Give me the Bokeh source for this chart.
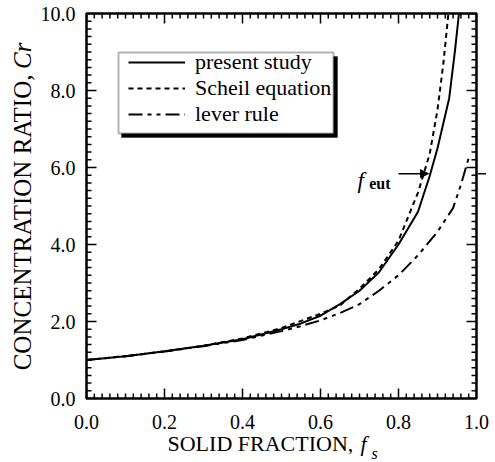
import math
from bokeh.plotting import figure
from bokeh.models import (FixedTicker, PrintfTickFormatter, Range1d, Title, ColumnDataSource,
                          Legend, LegendItem, Label, Arrow, NormalHead, BoxAnnotation)
from bokeh.embed import file_html
from bokeh.resources import INLINE

# ---- data ----
fs_present = [0.0, 0.1, 0.2, 0.3, 0.4, 0.5, 0.55, 0.6, 0.65, 0.7, 0.75, 0.8, 0.85, 0.88, 0.9, 0.93, 0.945, 0.955]
cr_present = [1.0, 1.10, 1.23, 1.37, 1.54, 1.80, 1.95, 2.15, 2.45, 2.80, 3.28, 4.00, 4.85, 5.78, 6.50, 7.80, 9.05, 10.0]

fs_scheil = [0.0, 0.1, 0.2, 0.3, 0.4, 0.5, 0.6, 0.65, 0.7, 0.75, 0.8, 0.85, 0.88, 0.9, 0.915, 0.928]
cr_scheil = [1.0, 1.10, 1.22, 1.37, 1.56, 1.83, 2.20, 2.42, 2.85, 3.36, 4.10, 5.35, 6.35, 7.50, 8.70, 10.0]

fs_lever = [0.0, 0.1, 0.2, 0.3, 0.4, 0.5, 0.55, 0.6, 0.65, 0.7, 0.75, 0.8, 0.85, 0.9, 0.94, 0.96, 0.98]
cr_lever = [1.0, 1.10, 1.22, 1.36, 1.52, 1.75, 1.88, 2.03, 2.22, 2.45, 2.80, 3.20, 3.72, 4.33, 4.95, 5.55, 6.25]

series_labels = ["present study", "Scheil equation", "lever rule"]

x_ticks = [0.0, 0.2, 0.4, 0.6, 0.8, 1.0]
y_ticks = [0.0, 2.0, 4.0, 6.0, 8.0, 10.0]
x_minor = [round(i * 0.02, 2) for i in range(51) if i % 10 != 0]
y_minor = [round(i * 0.2, 1) for i in range(51) if i % 10 != 0]

f_eut = 0.877
cr_eut = 5.84

FONT = "Liberation Serif"
X0, X1 = x_ticks[0], x_ticks[-1]
Y0, Y1 = y_ticks[0], y_ticks[-1]

# frame geometry in pixels
W, H = 495, 462
FL, FR, FT, FB = 86, 476, 13, 398
PX_X = (X1 - X0) / (FR - FL)   # data units per pixel
PX_Y = (Y1 - Y0) / (FB - FT)

p = figure(width=W, height=H, x_range=Range1d(X0, X1), y_range=Range1d(Y0, Y1),
           output_backend="svg", toolbar_location=None,
           min_border_left=FL, min_border_right=W - FR, min_border_top=FT, min_border_bottom=H - FB)
p.grid.visible = False
p.outline_line_color = "black"
p.outline_line_width = 2.5
p.background_fill_color = "white"
p.border_fill_color = "white"

p.xaxis.ticker = FixedTicker(ticks=x_ticks)
p.yaxis.ticker = FixedTicker(ticks=y_ticks)
for ax in p.axis:
    ax.formatter = PrintfTickFormatter(format="%.1f")
    ax.axis_line_color = None
    ax.major_tick_line_color = None
    ax.minor_tick_line_color = None
    ax.major_tick_in = 0
    ax.major_tick_out = 0
    ax.minor_tick_in = 0
    ax.minor_tick_out = 0
    ax.major_label_text_font = FONT
    ax.major_label_text_font_size = "20px"
    ax.major_label_text_color = "black"
p.xaxis.major_label_standoff = 16
p.yaxis.major_label_standoff = 11

r1 = p.line(fs_present, cr_present, line_color="black", line_width=2)
r2 = p.line(fs_scheil, cr_scheil, line_color="black", line_width=2, line_dash="5 4")
r3 = p.line(fs_lever, cr_lever, line_color="black", line_width=2, line_dash="14 5 4 5 4 5")

# inward tick marks on all four sides, drawn as head-less arrow annotations
tx0, ty0, tx1, ty1 = [], [], [], []

def add_xticks(xs, length_px):
    ly = length_px * PX_Y
    for x in xs:
        tx0 += []
        tx0.append(x); ty0.append(Y0); tx1.append(x); ty1.append(Y0 + ly)
        tx0.append(x); ty0.append(Y1); tx1.append(x); ty1.append(Y1 - ly)

def add_yticks(ys, length_px):
    lx = length_px * PX_X
    for y in ys:
        tx0.append(X0); ty0.append(y); tx1.append(X0 + lx); ty1.append(y)
        tx0.append(X1); ty0.append(y); tx1.append(X1 - lx); ty1.append(y)

def _xt(xs, length_px):
    ly = length_px * PX_Y
    for x in xs:
        tx0.append(x); ty0.append(Y0); tx1.append(x); ty1.append(Y0 + ly)
        tx0.append(x); ty0.append(Y1); tx1.append(x); ty1.append(Y1 - ly)

_xt(x_ticks, 10)
_xt(x_minor, 5)
add_yticks(y_ticks, 10)
add_yticks(y_minor, 5)

tick_src = ColumnDataSource(data=dict(x0=tx0, y0=ty0, x1=tx1, y1=ty1))
p.add_layout(Arrow(x_start="x0", y_start="y0", x_end="x1", y_end="y1", source=tick_src,
                   start=None, end=None, line_color="black", line_width=1.5))

# legend box with drop shadow (pixel targets converted to data units)
def dx(px):
    return X0 + (px - FL) * PX_X

def dy(py):
    return Y0 + (FB - py) * PX_Y

p.add_layout(BoxAnnotation(left=dx(121), right=dx(337), top=dy(56), bottom=dy(137),
                           fill_color="black", fill_alpha=1.0, line_color="black"))
p.add_layout(BoxAnnotation(left=dx(118), right=dx(333), top=dy(52), bottom=dy(133),
                           fill_color="white", fill_alpha=1.0, line_color="black", line_width=2))

legend = Legend(items=[LegendItem(label=series_labels[0], renderers=[r1]),
                       LegendItem(label=series_labels[1], renderers=[r2]),
                       LegendItem(label=series_labels[2], renderers=[r3])],
                location=(42, 271), orientation="vertical",
                glyph_width=57, glyph_height=20, label_height=20, spacing=-7,
                label_standoff=10, padding=0, margin=0,
                label_text_font=FONT, label_text_font_size="22px", label_text_color="black",
                background_fill_alpha=0.0, border_line_color=None)
p.add_layout(legend, "center")

# axis titles: zero-size title bands, shifted with negative standoffs
def title(side, text, size, style, align, offset, standoff, valign):
    p.add_layout(Title(text=text, align=align, offset=offset, standoff=standoff,
                       vertical_align=valign, text_font=FONT, text_font_size=size,
                       text_font_style=style, text_color="black"), side)

title("below", "SOLID FRACTION,", "22px", "normal", "left", 167 - FL, -48, "bottom")
title("below", "f", "22px", "italic", "left", 360 - FL, -48, "bottom")
title("below", "s", "16px", "italic", "left", 371 - FL, -60, "bottom")

title("left", "Cr", "25px", "italic", "right", 42 - FT, -57, "top")
title("left", "CONCENTRATION RATIO,", "25px", "normal", "right", 74 - FT, -57, "top")

# f_eut annotation
p.add_layout(Label(x=0.695, y=5.66, text="f", text_font=FONT, text_font_size="23px",
                   text_font_style="italic", text_align="left", text_baseline="alphabetic",
                   text_color="black"))
p.add_layout(Label(x=0.725, y=5.58, text="eut", text_font=FONT, text_font_size="16px",
                   text_font_style="bold", text_align="left", text_baseline="alphabetic",
                   text_color="black"))
p.add_layout(Arrow(x_start=0.80, y_start=cr_eut, x_end=f_eut, y_end=cr_eut,
                   line_color="black", line_width=1.5,
                   end=NormalHead(size=8, fill_color="black", line_color="black")))
p.add_layout(Arrow(x_start=1.06, y_start=cr_eut, x_end=1.004, y_end=cr_eut,
                   line_color="black", line_width=1.5,
                   end=NormalHead(size=8, fill_color="black", line_color="black")))

open("out.html", "w").write(file_html(p, INLINE))
